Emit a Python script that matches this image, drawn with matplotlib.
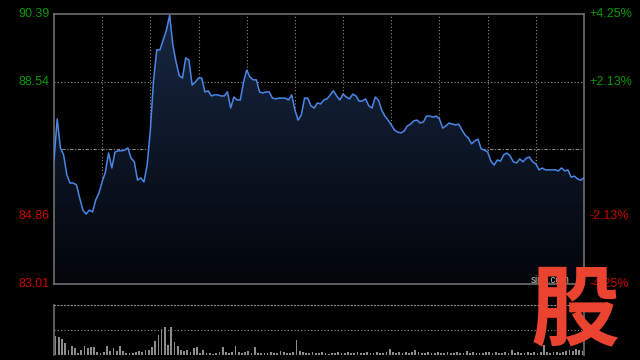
import numpy as np
import matplotlib
matplotlib.use("Agg")
import matplotlib.pyplot as plt
from matplotlib.colors import LinearSegmentedColormap

# intraday price, sampled every 2 minutes (HK session, 330 minutes)
prices = [
    86.40, 87.52, 86.73, 86.54, 85.99, 85.77, 85.77, 85.72, 85.36, 85.03,
    84.92, 85.03, 84.98, 85.31, 85.50, 85.80, 86.07, 86.59, 86.18, 86.62,
    86.65, 86.65, 86.67, 86.73, 86.45, 86.35, 85.85, 85.91, 85.80, 86.26,
    87.22, 88.59, 89.41, 89.41, 89.68, 89.95, 90.36, 89.54, 89.08, 88.70,
    88.64, 89.19, 89.13, 88.45, 88.53, 88.64, 88.64, 88.26, 88.29, 88.15,
    88.18, 88.18, 88.15, 88.15, 88.26, 87.82, 88.12, 88.04, 88.04, 88.53,
    88.86, 88.67, 88.59, 88.59, 88.26, 88.23, 88.26, 88.26, 88.09, 88.07,
    88.09, 88.09, 88.09, 88.04, 88.18, 87.77, 87.49, 87.63, 88.09, 88.09,
    87.88, 87.82, 87.96, 87.93, 88.04, 88.07, 88.18, 88.29, 88.15, 88.04,
    88.20, 88.12, 88.07, 88.20, 88.15, 88.01, 88.01, 88.07, 87.88, 87.82,
    88.12, 88.04, 87.77, 87.60, 87.49, 87.36, 87.22, 87.16, 87.14, 87.19,
    87.33, 87.38, 87.47, 87.49, 87.41, 87.44, 87.60, 87.60, 87.57, 87.60,
    87.52, 87.27, 87.33, 87.41, 87.38, 87.36, 87.38, 87.22, 87.08, 87.00,
    86.84, 86.92, 86.97, 86.70, 86.67, 86.62, 86.37, 86.26, 86.40, 86.37,
    86.54, 86.59, 86.51, 86.35, 86.32, 86.43, 86.35, 86.45, 86.48, 86.35,
    86.29, 86.13, 86.18, 86.13, 86.13, 86.13, 86.13, 86.10, 86.18, 86.10,
    86.13, 85.93, 85.96, 85.88, 85.85, 85.91,
]

# volume per 2-minute bucket (10k shares)
volumes = [
    19, 18, 16, 12, 5, 9, 7, 2, 5, 9,
    7, 8, 8, 3, 2, 3, 9, 4, 7, 4,
    9, 4, 2, 2, 2, 3, 4, 3, 5, 5,
    8, 14, 20, 26, 28, 10, 28, 13, 9, 5,
    4, 5, 3, 7, 8, 2, 5, 2, 2, 1,
    2, 3, 8, 3, 2, 3, 9, 3, 2, 3,
    4, 2, 8, 2, 2, 2, 2, 3, 2, 2,
    4, 3, 2, 2, 3, 15, 4, 3, 2, 2,
    3, 2, 2, 3, 2, 1, 2, 2, 3, 2,
    2, 3, 2, 2, 3, 2, 2, 3, 2, 2,
    3, 2, 2, 3, 6, 3, 2, 3, 2, 3,
    2, 3, 5, 3, 2, 2, 3, 2, 2, 3,
    2, 2, 3, 2, 2, 3, 2, 2, 4, 2,
    3, 2, 2, 2, 3, 3, 2, 3, 2, 2,
    3, 2, 5, 2, 3, 2, 2, 3, 2, 3,
    2, 3, 10, 3, 2, 3, 3, 2, 3, 4,
    5, 4, 6, 5, 4, 6,
]

prev_close = 86.70
price_ticks = [83.01, 84.86, 86.70, 88.54, 90.39]
pct_labels = ["-4.25%", "-2.13%", "", "+2.13%", "+4.25%"]
minutes = np.arange(len(prices)) * 2

GREEN = "#009a00"
RED = "#c80000"
GRID = "#8a8a8a"
SPINE = "#6e6e6e"
LINE = "#4a86e8"

plt.rcParams["font.family"] = ["Liberation Sans", "DejaVu Sans"]

fig = plt.figure(figsize=(6.4, 3.6), dpi=100, facecolor="black")
ax = fig.add_axes([54 / 640, 1 - 284 / 360, 530 / 640, 270 / 360])
axv = fig.add_axes([54 / 640, 1 - 355 / 360, 530 / 640, 50 / 360])

for a in (ax, axv):
    a.set_facecolor("black")
    a.set_xlim(0, 330)
    a.set_xticks([])
    a.set_yticks([])

ax.set_ylim(price_ticks[0], price_ticks[-1])

# grid: one vertical line every half hour
for m in range(30, 330, 30):
    ax.axvline(m, color=GRID, lw=0.8, ls=(0, (1, 2)), zorder=1)
for p in (price_ticks[1], price_ticks[3]):
    ax.axhline(p, color=GRID, lw=0.8, ls=(0, (1, 2)), zorder=1)
ax.axhline(prev_close, color=GRID, lw=0.8, ls=(0, (3, 1.5, 1, 1.5)), zorder=1)

# gradient fill under price line
fill = ax.fill_between(minutes, prices, price_ticks[0], color="none", lw=0)
cmap = LinearSegmentedColormap.from_list("fade", ["#03050a", "#172741"])
grad = np.linspace(0, 1, 256).reshape(-1, 1)
img = ax.imshow(grad, cmap=cmap, aspect="auto", origin="lower",
                extent=(0, 330, price_ticks[0], max(prices)), zorder=2)
img.set_clip_path(fill.get_paths()[0], transform=ax.transData)
ax.plot(minutes, prices, color=LINE, lw=1.1, zorder=3)

for s in ax.spines.values():
    s.set_color(SPINE)
    s.set_linewidth(1.2)

# volume panel
axv.bar(minutes + 1, volumes, width=1.1, color="#8c8c8c", zorder=2)
axv.set_ylim(0, 50)
axv.axhline(25, color=GRID, lw=0.8, ls=(0, (1, 2)))
axv.spines["top"].set_linestyle((0, (1, 2)))
axv.spines["top"].set_color(GRID)
axv.spines["bottom"].set_visible(False)
for side in ("left", "right"):
    axv.spines[side].set_color(SPINE)
    axv.spines[side].set_linewidth(1.2)

# price and percentage labels
for p, lab in zip(price_ticks, pct_labels):
    if p == prev_close:
        continue
    col = GREEN if p > prev_close else RED
    ax.text(-0.008, p, f"{p:.2f}", transform=ax.get_yaxis_transform(),
            ha="right", va="center", color=col, fontsize=9)
    ax.text(1.01, p, lab, transform=ax.get_yaxis_transform(),
            ha="left", va="center", color=col, fontsize=9)

# watermark sits on top of the corner, as in the source
fig.text(531 / 640, 1 - 280 / 360, "sina.com", color="#bbbbbb", fontsize=7,
         va="center", ha="left")
fig.text(575 / 640, 1 - 312 / 360, "股", color="#ea4430", fontsize=64,
         fontweight="bold", style="italic", ha="center", va="center",
         family=["Noto Sans CJK SC", "DejaVu Sans"])

fig.savefig("out.png", dpi=100, facecolor="black")
